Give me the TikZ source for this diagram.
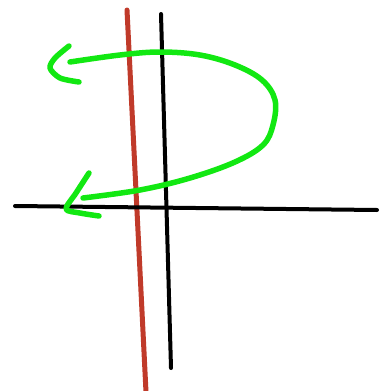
\documentclass[tikz,border=0pt]{standalone}
\usepackage{xcolor}
\usepackage{tikz}

\definecolor{redline}{RGB}{192,58,42}
\definecolor{greenline}{RGB}{18,232,18}
\tikzset{
  axisline/.style={draw=black, line width=4pt, line cap=round},
  tiltline/.style={draw=redline, line width=5pt, line cap=round},
  turnline/.style={draw=greenline, line width=5.5pt, line cap=round, line join=round}
}

\begin{document}
\begin{tikzpicture}[x=1pt, y=-1pt]
\useasboundingbox (0,0) rectangle (389,391);
\coordinate (ytop) at (161,14);
\coordinate (ybot) at (171,368);
\coordinate (xleft) at (15,206);
\coordinate (xright) at (377,210);
\coordinate (rtop) at (127,10);
\coordinate (rbot) at (146,392);
\path[tiltline] (rtop) -- (rbot);
\path[axisline] (ytop) -- (ybot);
\path[axisline] (xleft) -- (xright);
% the turn with its two heads
\path[turnline] plot[smooth, tension=0.6] coordinates {(70,62) (120,55) (160,52) (200,55) (235,65) (262,80) (275,100) (273,125) (263,145) (235,162) (190,178) (140,190) (83,198)};
\path[turnline] plot[smooth, tension=0.5] coordinates {(69,46) (55,58) (50,68) (60,78) (79,82)};
\path[turnline] plot[smooth, tension=0.5] coordinates {(89,173) (76,193) (66,209) (80,213) (99,216)};
\end{tikzpicture}
\end{document}
